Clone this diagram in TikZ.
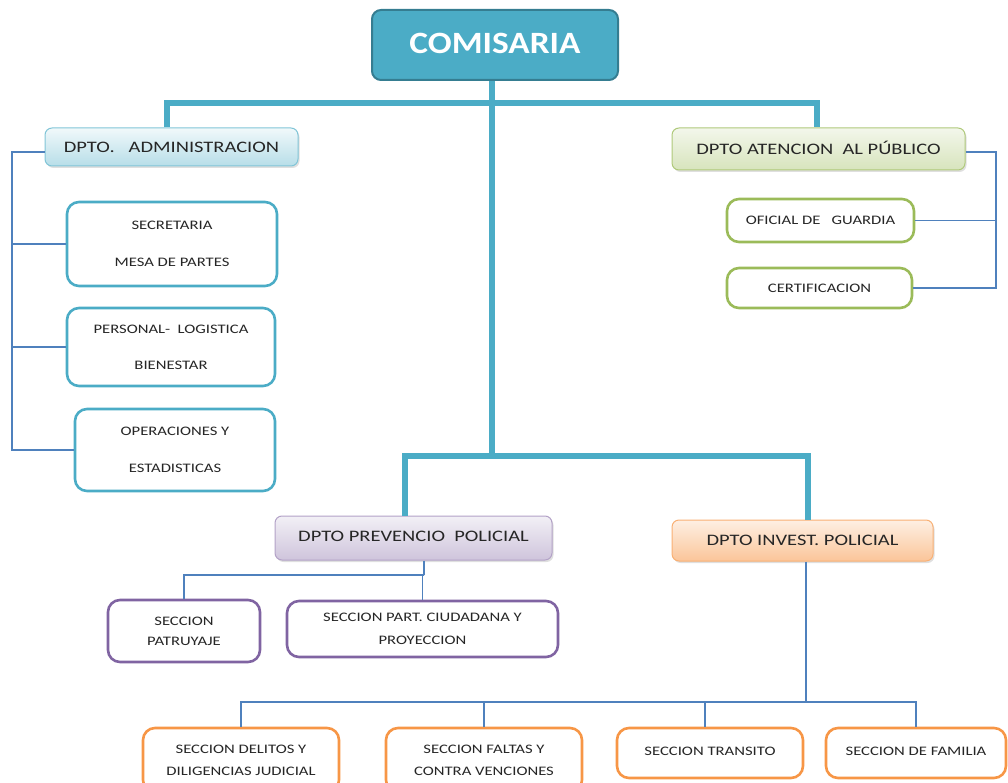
\documentclass[tikz,border=0pt]{standalone}
\usepackage{fontspec}
\setmainfont{Carlito}
\newfontfamily\widefont[FakeStretch=1.28]{Carlito}
\newfontfamily\titlefont[FakeStretch=1.14]{Carlito}
\usetikzlibrary{shadows}
\definecolor{teal1}{HTML}{4BACC6}
\definecolor{tealdark}{HTML}{357D91}
\definecolor{blueln}{HTML}{4F81BD}
\definecolor{grn}{HTML}{9BBB59}
\definecolor{purp}{HTML}{8064A2}
\definecolor{orng}{HTML}{F79646}
\definecolor{txt}{HTML}{262626}
\tikzset{
  x=1pt, y=-1pt,
  every node/.style={inner sep=0pt, text=txt},
  topbox/.style={rounded corners=9pt, fill=teal1, draw=tealdark, line width=2pt, text=white, font=\titlefont\fontsize{31}{31}\selectfont\bfseries},
  dept/.style={rounded corners=7pt, line width=1pt, drop shadow={opacity=0.25, shadow xshift=1.5pt, shadow yshift=-2pt}, font=\widefont\fontsize{16}{16}\selectfont},
  admbox/.style={dept, draw=teal1!70, top color=teal1!8, bottom color=teal1!40},
  atnbox/.style={dept, draw=grn!80, top color=grn!12, bottom color=grn!40},
  prvbox/.style={dept, draw=purp!60, top color=purp!10, bottom color=purp!38},
  invbox/.style={dept, draw=orng!75, top color=orng!15, bottom color=orng!55},
  unit/.style={rounded corners=12pt, fill=white, line width=2.6pt, align=center, font=\widefont\fontsize{13}{13}\selectfont},
  tealunit/.style={unit, draw=teal1},
  grnunit/.style={unit, draw=grn},
  purunit/.style={unit, draw=purp},
  orgunit/.style={unit, draw=orng},
  thick link/.style={draw=teal1, line width=5.5pt},
  thin link/.style={draw=blueln, line width=1.2pt},
}
\begin{document}
\begin{tikzpicture}
\useasboundingbox (0,0) rectangle (1008,783);
\clip (0,0) rectangle (1008,783);
% --- nodes
\node[topbox, minimum width=246pt, minimum height=70pt] (com) at (495,45) {\raisebox{4pt}{COMISARIA}};

\node[admbox, minimum width=253pt, minimum height=38pt] (adm) at (171.5,147) {DPTO.\ \ \ ADMINISTRACION};
\node[atnbox, minimum width=293pt, minimum height=42pt] (atn) at (818.5,149) {\raisebox{2pt}{DPTO ATENCION \ AL PÚBLICO}};
\node[prvbox, minimum width=277pt, minimum height=44pt] (prv) at (413.5,538) {\raisebox{3pt}{DPTO PREVENCIO \ POLICIAL}};
\node[invbox, minimum width=261pt, minimum height=41pt] (inv) at (802.5,540.5) {DPTO INVEST. POLICIAL};

\node[tealunit, minimum width=210pt, minimum height=84pt] (sec) at (172,244) {SECRETARIA\\[24pt]MESA DE PARTES};
\node[tealunit, minimum width=208pt, minimum height=78pt] (per) at (171,347) {PERSONAL-\ \ LOGISTICA\\[23pt]BIENESTAR};
\node[tealunit, minimum width=200pt, minimum height=82pt] (ope) at (175,450) {OPERACIONES Y\\[24pt]ESTADISTICAS};

\node[grnunit, minimum width=187pt, minimum height=43pt] (ofi) at (820.5,220.5) {OFICIAL DE \ \ GUARDIA};
\node[grnunit, minimum width=185pt, minimum height=40pt] (cer) at (819.5,288) {CERTIFICACION};

\node[purunit, minimum width=152pt, minimum height=62pt] (pat) at (184,631) {SECCION\\[7pt]PATRUYAJE};
\node[purunit, minimum width=271pt, minimum height=56pt] (spc) at (422.5,629) {SECCION PART. CIUDADANA Y\\[10pt]PROYECCION};

\node[orgunit, minimum width=196pt, minimum height=64pt] (del) at (241,760) {SECCION DELITOS Y\\[9pt]DILIGENCIAS JUDICIAL};
\node[orgunit, minimum width=196pt, minimum height=64pt] (fal) at (484,760) {SECCION FALTAS Y\\[9pt]CONTRA VENCIONES};
\node[orgunit, minimum width=186pt, minimum height=50pt] (tra) at (710,753) {\raisebox{4pt}{SECCION TRANSITO}};
\node[orgunit, minimum width=180pt, minimum height=50pt] (fam) at (916,753) {\raisebox{4pt}{SECCION DE FAMILIA}};

% --- connectors
\coordinate (j1) at (492,103);
\coordinate (j2) at (492,456);
\coordinate (lb) at (12,0);
\coordinate (rb) at (996,0);
\coordinate (pj) at (424,575);
\coordinate (ij) at (806,702);
\path[thick link] (com.south -| j1) -- (j1);
\path[thick link] ([xshift=-4.5pt]adm.north) |- (j1) -| ([xshift=-1.5pt]atn.north);
\path[thick link] (j1) -- (j2);
\path[thick link] ([xshift=-8.5pt]prv.north) |- (j2) -| ([xshift=5.5pt]inv.north);

\path[thin link] ([yshift=-5pt]adm.west) -| (ope.west -| lb) -- (ope.west);
\path[thin link] (sec.west) -- (sec.west -| lb);
\path[thin link] (per.west) -- (per.west -| lb);

\path[thin link] ([yshift=-3pt]atn.east) -| (cer.east -| rb) -- (cer.east);
\path[thin link] (ofi.east) -- (ofi.east -| rb);

\path[thin link] (prv.south -| pj) -- (pj);
\path[thin link] (pat.north) |- (pj) -| (spc.north);

\path[thin link] (inv.south -| ij) -- (ij);
\path[thin link] (del.north) |- (ij) -| (fam.north);
\path[thin link] (fal.north) -- (fal.north |- ij);
\path[thin link] ([xshift=-5pt]tra.north) -- ([xshift=-5pt]tra.north |- ij);
\end{tikzpicture}
\end{document}
